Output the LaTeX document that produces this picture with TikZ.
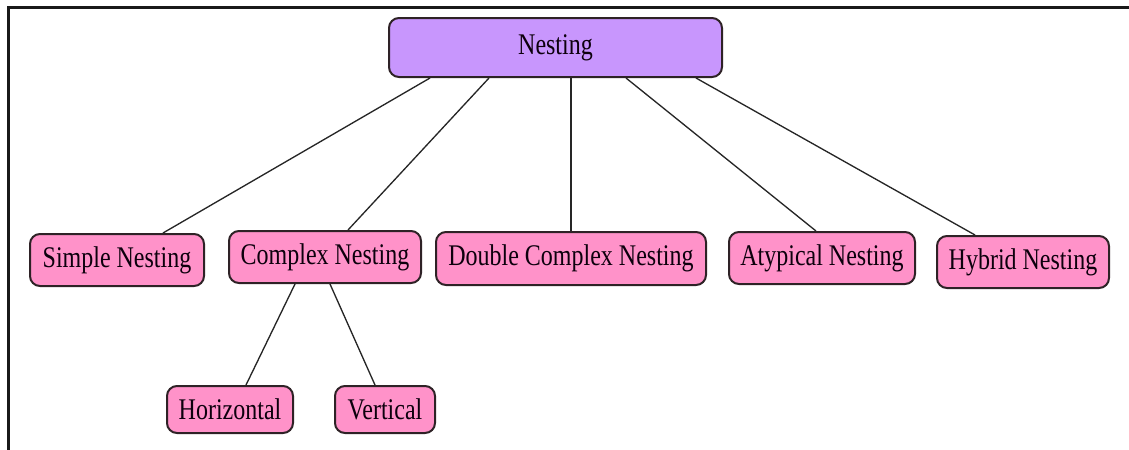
\documentclass[tikz,border=0pt]{standalone}
\usepackage{fontspec}
\setmainfont{Liberation Serif}[FakeStretch=0.8]
\usetikzlibrary{calc}
\definecolor{rootfill}{HTML}{C896FD}
\definecolor{leaffill}{HTML}{FF92C9}
\definecolor{edgeline}{HTML}{2E2226}
\tikzset{
  box/.style={draw=edgeline, line width=1.5pt, rounded corners=7.5pt, inner sep=0pt,
    font=\fontsize{22.5}{27}\selectfont, text=black!90!violet},
  rootbox/.style={box, fill=rootfill},
  leafbox/.style={box, fill=leaffill},
  link/.style={draw=black!85, line width=1pt},
}
\begin{document}
\begin{tikzpicture}[x=0.75pt, y=-0.75pt]
\useasboundingbox (0,0) rectangle (1129,450);
% frame edges
\draw[line width=2pt, black!90] (1129,7.5) -- (8.5,7.5) -- (8.5,450);

% hierarchy
\node[rootbox, minimum width=333*0.75pt, minimum height=59*0.75pt] (nest) at (555.5,47.5) {Nesting};
\node[leafbox, minimum width=174*0.75pt, minimum height=52*0.75pt] (simple) at (117,260) {Simple Nesting};
\node[leafbox, minimum width=192*0.75pt, minimum height=52*0.75pt] (complex) at (325,257) {Complex Nesting};
\node[leafbox, minimum width=270*0.75pt, minimum height=53*0.75pt] (double) at (571,258.5) {Double Complex Nesting};
\node[leafbox, minimum width=186*0.75pt, minimum height=52*0.75pt] (atyp) at (822,258) {Atypical Nesting};
\node[leafbox, minimum width=172*0.75pt, minimum height=52*0.75pt] (hybrid) at (1023,262) {Hybrid Nesting};
\node[leafbox, minimum width=126*0.75pt, minimum height=47*0.75pt] (horiz) at (230,409.5) {Horizontal};
\node[leafbox, minimum width=100*0.75pt, minimum height=47*0.75pt] (vert) at (385,409.5) {Vertical};

% connectors
\draw[link] ($(nest.south)+(-125.5,0)$) -- ($(simple.north)+(46,0)$);
\draw[link] ($(nest.south)+(-66.5,0)$) -- ($(complex.north)+(23,0)$);
\draw[link] ($(nest.south)+(15.5,0)$) -- (double.north);
\draw[link] ($(nest.south)+(70.5,0)$) -- ($(atyp.north)+(-6,0)$);
\draw[link] ($(nest.south)+(140.5,0)$) -- ($(hybrid.north)+(-48,0)$);
\draw[link] ($(complex.south)+(-30,0)$) -- ($(horiz.north)+(16,0)$);
\draw[link] ($(complex.south)+(5,0)$) -- ($(vert.north)+(-10,0)$);
\end{tikzpicture}
\end{document}
